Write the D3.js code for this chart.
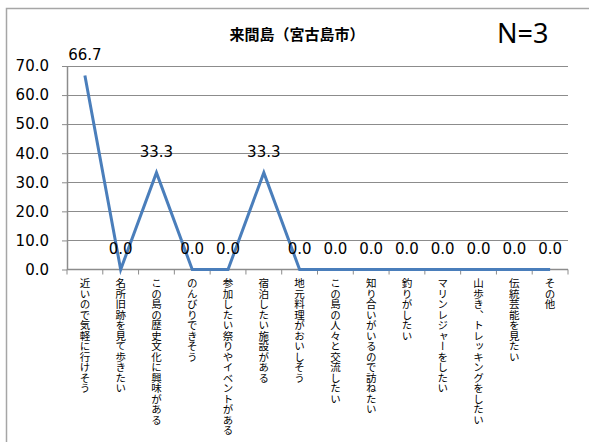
<!DOCTYPE html>
<html><head><meta charset="utf-8">
<script src="https://cdn.jsdelivr.net/npm/d3@7"></script>
<style>
html,body{margin:0;padding:0;background:#fff;}
svg{display:block;}
</style></head>
<body>
<svg id="chart" width="589" height="442"></svg>
<script>
const categories = [
  "近いので気軽に行けそう",
  "名所旧跡を見て歩きたい",
  "この島の歴史文化に興味がある",
  "のんびりできそう",
  "参加したい祭りやイベントがある",
  "宿泊したい施設がある",
  "地元料理がおいしそう",
  "この島の人々と交流したい",
  "知り合いがいるので訪ねたい",
  "釣りがしたい",
  "マリンレジャーをしたい",
  "山歩き、トレッキングをしたい",
  "伝統芸能を見たい",
  "その他"
];
const values = [66.7, 0.0, 33.3, 0.0, 0.0, 33.3, 0.0, 0.0, 0.0, 0.0, 0.0, 0.0, 0.0, 0.0];
const yTicks = [0, 10, 20, 30, 40, 50, 60, 70];
const chartTitle = "来間島（宮古島市）";
const nLabel = "N=3";

const svg = d3.select("#chart");
const plotLeft = 67, plotRight = 568, plotTop = 66, plotBottom = 269.5;

// frame
svg.append("rect").attr("x", 6.5).attr("y", 8.5).attr("width", 620).attr("height", 460)
  .attr("fill", "none").attr("stroke", "#a6a6a6").attr("stroke-width", 1.5);

const x = d3.scaleBand().domain(categories).range([plotLeft, plotRight]).padding(0);
const y = d3.scaleLinear().domain([0, 70]).range([plotBottom, plotTop]);

// gridlines
svg.append("g").selectAll("line").data(yTicks.filter(d => d > 0)).join("line")
  .attr("x1", plotLeft).attr("x2", plotRight)
  .attr("y1", d => Math.round(y(d)) + 0.5).attr("y2", d => Math.round(y(d)) + 0.5)
  .attr("stroke", "#8c8c8c").attr("stroke-width", 1);

// y axis
const yAxis = d3.axisLeft(y).tickValues(yTicks).tickFormat(d3.format(".1f")).tickSize(5).tickSizeOuter(0);
const gy = svg.append("g").attr("transform", `translate(${plotLeft},0)`).call(yAxis);
gy.select(".domain").attr("stroke", "#8c8c8c").attr("stroke-width", 1.5);
gy.selectAll(".tick line").attr("stroke", "#8c8c8c");
gy.selectAll(".tick text").attr("x", -18)
  .style("font-family", "DejaVu Sans").style("font-size", "15px").attr("fill", "#000");

// x axis line and ticks at boundaries
const boundaries = d3.range(categories.length + 1).map(i => plotLeft + i * x.bandwidth());
svg.append("g").selectAll("line").data(boundaries).join("line")
  .attr("x1", d => d).attr("x2", d => d).attr("y1", plotBottom).attr("y2", plotBottom + 5)
  .attr("stroke", "#8c8c8c").attr("stroke-width", 1);
svg.append("line").attr("x1", plotLeft).attr("x2", plotRight).attr("y1", plotBottom).attr("y2", plotBottom)
  .attr("stroke", "#8c8c8c").attr("stroke-width", 1.5);

// line
const line = d3.line().x((d, i) => x(categories[i]) + x.bandwidth() / 2).y(d => y(d));
svg.append("path").datum(values).attr("d", line)
  .attr("fill", "none").attr("stroke", "#4a7ebb").attr("stroke-width", 3).attr("stroke-linejoin", "miter");

// data labels
svg.append("g").selectAll("text").data(values).join("text")
  .attr("x", (d, i) => x(categories[i]) + x.bandwidth() / 2)
  .attr("y", d => y(d) - 16)
  .attr("text-anchor", "middle")
  .style("font-family", "DejaVu Sans").style("font-size", "15px")
  .text(d => d3.format(".1f")(d));

// category labels (vertical)
svg.append("g").selectAll("text").data(categories).join("text")
  .attr("x", d => x(d) + x.bandwidth() / 2)
  .attr("y", 278)
  .style("writing-mode", "vertical-rl")
  .style("text-orientation", "upright")
  .style("font-family", "'Noto Sans CJK JP'")
  .style("font-size", "10.5px")
  .text(d => d);

// title
svg.append("text").attr("x", 297).attr("y", 40).attr("text-anchor", "middle")
  .style("font-family", "'Noto Sans CJK JP'").style("font-size", "15px").style("font-weight", "bold")
  .text(chartTitle);

svg.append("text").attr("x", 497).attr("y", 43)
  .style("font-family", "'Noto Sans'").style("font-size", "27px")
  .text(nLabel);
</script>
</body></html>
